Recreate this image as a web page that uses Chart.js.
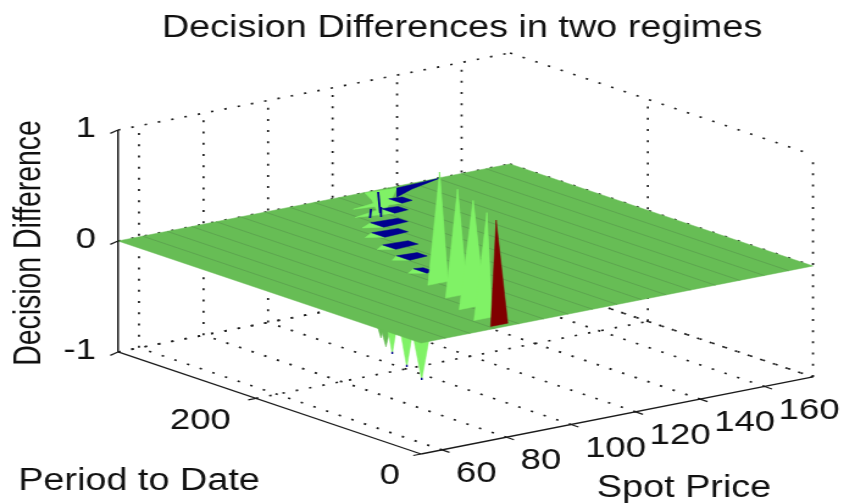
<!DOCTYPE html>
<html>
<head>
<meta charset="utf-8">
<title>Decision Differences in two regimes</title>
<script src="https://cdn.jsdelivr.net/npm/chart.js@4/dist/chart.umd.min.js"></script>
<style>
    html, body { margin: 0; padding: 0; background: #fff; overflow: hidden; }
    /* the original picture is stretched sideways, text and dots included */
    #wrap { width: 692px; height: 503px; transform-origin: 0 0; transform: scaleX(1.2197); }
</style>
</head>
<body>
<div id="wrap"><canvas id="chartSurface" width="692" height="503"></canvas></div>
<script>
// ============== DATA ==============
const spotTicks = [60, 80, 100, 120, 140, 160];
const periodTicks = [0, 200];
const diffTicks = [-1, 0, 1];

const spotGrid = [53.5, 61.1, 68.7, 76.3, 83.9, 91.5, 99.1, 106.7, 114.3, 121.9, 129.5, 137.1, 144.7, 152.3, 159.9, 167.5, 175];
const periodRange = [0, 367];

// spikes above the surface
const upSpot = [92, 88.1, 84.6, 80.9, 78.4];
const upPeriod = [128, 91, 58.5, 27.3, 6.3];
const upValue = [1, 0.96, 0.96, 0.95, 0.95];
const upLeft = [88.4, 84.4, 80.3, 76.9, 76.7];
const upRight = [94.6, 91.2, 88.3, 82.5, 82];

// spikes below the surface
const downSpot = [109.9, 108.9, 106, 101.3, 96.7];
const downPeriod = [269, 259, 240, 204, 168];
const downValue = [-0.95, -1, -1, -1, -1];
const downWidth = [9, 9, 6, 6, 6.5];

// openings of the lower spikes seen from above
const holeSpot = [131, 123.8, 113.5, 107.9, 103, 99.4, 95.2];
const holePeriod = [334, 314.6, 287.7, 264.5, 232, 201, 164];
const holeLight = [13, 10.2, 4.6, 4, 3.7, 3.4, 3.7];
const holeBlue = [3.7, 4.6, 8, 7.7, 7.4, 5.9, 2.5];

// light patch and blue strip near the back edge [spot, period]
const backPatch = [[129.7, 365.8], [138.9, 362.8], [122.6, 313.7], [118.7, 304.5], [127, 346.8]];
const backStrip = [[138.9, 362.8], [133.7, 342.4], [141.3, 353.9], [153.2, 366.3]];
const blueStrokes = [
    [[132.9, 362.2], [121.1, 313.6]],
    [[121.6, 326.7], [116.2, 306.8]],
    [[124.7, 326.9], [118.9, 304]]
];

// ============== COLOURS ==============
const COLOR_SURFACE = '#67bd55';
const COLOR_MESH = '#5a9f4e';
const COLOR_LIGHT = '#80f266';
const COLOR_SIDE = '#72dc5e';
const COLOR_RED = '#800000';
const COLOR_BLUE = '#00008f';
const COLOR_AXIS = '#1a1a1a';
const FONT_FAMILY = "'Liberation Sans', Arial, sans-serif";

// ============== PROJECTION ==============
const spotMin = spotGrid[0];
const spotMax = spotGrid[spotGrid.length - 1];
const periodMax = periodRange[1];

function project(spot, period, diff) {
    return {
        x: 421 + (spot - spotMin) * 3.226 - period * 0.8256,
        y: 343 - (spot - spotMin) * 0.634 - period * 0.278 - diff * 111
    };
}

// ============== DATASETS ==============
// kept back to front, reversed at the end because Chart.js paints the first dataset last
const layers = [];

function addLine(points, color, width, dash) {
    layers.push({
        data: points.map(p => project(p[0], p[1], p[2])),
        showLine: true,
        borderColor: color,
        borderWidth: width,
        borderDash: dash || [],
        pointRadius: 0,
        fill: false,
        tension: 0
    });
}

function addShape(points, color) {
    const closed = points.concat([points[0]]);
    layers.push({
        data: closed.map(p => project(p[0], p[1], p[2])),
        showLine: true,
        borderColor: color,
        borderWidth: 0.5,
        backgroundColor: color,
        pointRadius: 0,
        fill: 'shape',
        tension: 0
    });
}

function addGrid() {
    const dots = [2, 9.2];
    const w = 1.7;
    // floor
    spotTicks.forEach(s => addLine([[s, 0, -1], [s, periodMax, -1]], COLOR_AXIS, w, dots));
    addLine([[spotMin, 200, -1], [spotMax, 200, -1]], COLOR_AXIS, w, dots);
    addLine([[spotMin, periodMax, -1], [spotMax, periodMax, -1]], COLOR_AXIS, w, dots);
    addLine([[spotMax, 0, -1], [spotMax, periodMax, -1]], COLOR_AXIS, w, dots);
    // back walls
    spotTicks.forEach(s => addLine([[s, periodMax, -1], [s, periodMax, 1]], COLOR_AXIS, w, dots));
    addLine([[spotMax, 200, -1], [spotMax, 200, 1]], COLOR_AXIS, w, dots);
    addLine([[spotMax, 0, -1], [spotMax, 0, 1]], COLOR_AXIS, w, dots);
    diffTicks.forEach(d => {
        addLine([[spotMin, periodMax, d], [spotMax, periodMax, d]], COLOR_AXIS, w, dots);
        addLine([[spotMax, periodMax, d], [spotMax, 0, d]], COLOR_AXIS, w, dots);
    });
}

function addAxes() {
    addLine([[spotMin, periodMax, -1], [spotMin, periodMax, 1]], COLOR_AXIS, 1.5);
    addLine([[spotMin, periodMax, -1], [spotMin, 0, -1]], COLOR_AXIS, 1.3);
    addLine([[spotMin, 0, -1], [spotMax, 0, -1]], COLOR_AXIS, 1.3);
    diffTicks.forEach(d => addLine([[spotMin, periodMax, d], [spotMin - 2.4, periodMax, d - 0.017]], COLOR_AXIS, 1.2));
    spotTicks.forEach(s => addLine([[s, 0, -1], [s, -9, -1]], COLOR_AXIS, 1.2));
    periodTicks.forEach(p => addLine([[spotMin, p, -1], [spotMin - 2.4, p, -1]], COLOR_AXIS, 1.2));
}

function addDownSpikes() {
    downSpot.forEach((s, i) => {
        const p = downPeriod[i];
        const z = downValue[i];
        const half = downWidth[i];
        addShape([[s - half, p, 0], [s + half, p, 0], [s, p, z]], i < 2 ? COLOR_SURFACE : COLOR_LIGHT);
        if (i >= 2) addLine([[s, p, z * 0.98], [s, p, z]], COLOR_BLUE, 1.4);
    });
}

function addSurface() {
    addShape([
        [spotMin, periodRange[0], 0],
        [spotMax, periodRange[0], 0],
        [spotMax, periodMax, 0],
        [spotMin, periodMax, 0]
    ], COLOR_SURFACE);
    spotGrid.slice(1, -1).forEach(s => addLine([[s, periodRange[0], 0], [s, periodMax, 0]], COLOR_MESH, 0.8));
}

function addHoles() {
    addShape(backPatch.map(p => [p[0], p[1], 0]), COLOR_LIGHT);
    addShape(backStrip.map(p => [p[0], p[1], 0]), COLOR_BLUE);
    holeSpot.forEach((s, i) => {
        const p = holePeriod[i];
        addShape([[s - holeLight[i], p, 0], [s, p + 8, 0], [s, p - 8, 0]], COLOR_LIGHT);
        addShape([[s, p + 8, 0], [s + holeBlue[i], p + 6, 0], [s + holeBlue[i], p - 6, 0], [s, p - 8, 0]], COLOR_BLUE);
    });
    blueStrokes.forEach(st => addLine(st.map(p => [p[0], p[1], 0]), COLOR_BLUE, 1.8));
}

function addUpSpikes() {
    upSpot.forEach((s, i) => {
        const p = upPeriod[i];
        const red = i === upSpot.length - 1;
        const peak = [s, p, upValue[i]];
        if (!red) {
            addShape([peak, [upRight[i], p, 0], [upRight[i] + 7, p + 32, 0]], COLOR_SIDE);
        }
        addShape([peak, [upLeft[i], p, 0], [upRight[i], p, 0]], red ? COLOR_RED : COLOR_LIGHT);
    });
}

addGrid();
addDownSpikes();
addSurface();
addHoles();
addUpSpikes();
addAxes();

// ============== TEXT ==============
const axisTextPlugin = {
    id: 'axisText',
    afterDraw(chart) {
        const ctx = chart.ctx;
        const xs = chart.scales.x;
        const ys = chart.scales.y;
        const put = (text, x, y, align) => {
            ctx.textAlign = align;
            ctx.fillText(text, xs.getPixelForValue(x), ys.getPixelForValue(y));
        };

        ctx.save();
        ctx.fillStyle = '#111';
        ctx.textBaseline = 'middle';
        ctx.font = '30px ' + FONT_FAMILY;

        diffTicks.forEach(d => {
            const a = project(spotMin, periodMax, d);
            put(String(d), a.x - 22, a.y - 1, 'right');
        });
        periodTicks.forEach(p => {
            const a = project(spotMin, p, -1);
            put(String(p), a.x - (p === 0 ? 21 : 25), a.y + 22, 'right');
        });
        spotTicks.forEach(s => {
            const a = project(s, 0, -1);
            put(String(s), a.x + 14, a.y + 24, 'left');
        });

        ctx.font = '31px ' + FONT_FAMILY;
        put('Period to Date', 139, 481, 'center');
        put('Spot Price', 684, 488, 'center');

        ctx.translate(xs.getPixelForValue(30), ys.getPixelForValue(243));
        ctx.rotate(-Math.PI / 2);
        ctx.scale(1, 1.12);
        ctx.font = '28.4px ' + FONT_FAMILY;
        ctx.textAlign = 'center';
        ctx.fillText('Decision Difference', 0, 0);
        ctx.restore();
    }
};

// ============== CHART ==============
new Chart(document.getElementById('chartSurface').getContext('2d'), {
    type: 'scatter',
    data: { datasets: layers.slice().reverse() },
    options: {
        responsive: false,
        animation: false,
        layout: { padding: { left: 65.6 } },
        plugins: {
            legend: { display: false },
            tooltip: { enabled: false },
            title: {
                display: true,
                text: 'Decision Differences in two regimes',
                color: '#111',
                font: { family: FONT_FAMILY, size: 31, weight: 'normal' },
                padding: { top: 9.4, bottom: 2.4 }
            }
        },
        scales: {
            x: { type: 'linear', display: false, min: 80, max: 844 },
            y: { type: 'linear', display: false, min: 49, max: 503, reverse: true }
        }
    },
    plugins: [axisTextPlugin]
});
</script>
</body>
</html>
